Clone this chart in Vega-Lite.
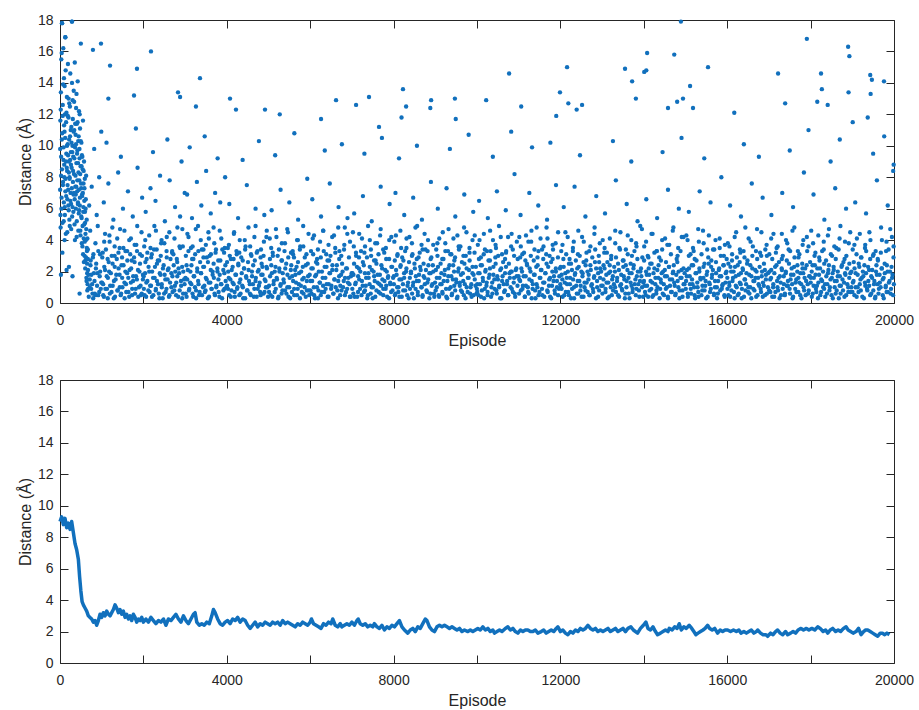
{
"$schema": "https://vega.github.io/schema/vega-lite/v6.json",
"background": "white",
"padding": {"left": 16, "top": 12, "right": 10, "bottom": 5},
"spacing": 23,
"config": {
 "font": "Liberation Sans",
 "view": {"stroke": "#262626", "strokeWidth": 1},
 "axis": {"grid": false, "domain": false, "tickColor": "#262626", "tickSize": -8, "tickWidth": 1, "labelColor": "#262626", "labelFontSize": 14, "titleFontSize": 16, "titleFontWeight": "normal", "titleColor": "#262626", "labelFont": "Liberation Sans", "titleFont": "Liberation Sans"},
 "axisX": {"labelPadding": 18, "titlePadding": 5, "labelFlush": false},
 "axisY": {"labelPadding": 15, "titlePadding": 4}
},
"datasets": {
"scatter": [
{"e":5,"d":9.8},{"e":12,"d":5.6},{"e":18,"d":12.3},{"e":25,"d":8.1},{"e":31,"d":15.5},{"e":38,"d":6.7},{"e":44,"d":10.4},{"e":50,"d":17.8},{"e":57,"d":3.2},{"e":63,"d":11.9},{"e":70,"d":7.5},{"e":76,"d":13.9},{"e":82,"d":9.1},{"e":89,"d":5.2},{"e":95,"d":14.3},{"e":101,"d":8.8},{"e":108,"d":10.9},{"e":114,"d":6.1},{"e":120,"d":12.0},{"e":127,"d":16.9},{"e":133,"d":7.9},{"e":139,"d":4.4},{"e":146,"d":11.5},{"e":152,"d":9.5},{"e":158,"d":2.1},{"e":165,"d":13.1},{"e":171,"d":8.4},{"e":177,"d":6.6},{"e":184,"d":10.1},{"e":190,"d":15.2},{"e":196,"d":7.2},{"e":203,"d":11.8},{"e":209,"d":5.9},{"e":215,"d":9.0},{"e":222,"d":12.7},{"e":228,"d":8.0},{"e":234,"d":4.9},{"e":241,"d":10.6},{"e":247,"d":14.6},{"e":253,"d":7.0},{"e":260,"d":9.6},{"e":266,"d":6.3},{"e":272,"d":11.2},{"e":279,"d":8.6},{"e":285,"d":17.9},{"e":291,"d":5.5},{"e":298,"d":10.0},{"e":304,"d":12.9},{"e":310,"d":7.7},{"e":317,"d":9.3},{"e":323,"d":6.9},{"e":329,"d":13.5},{"e":336,"d":8.2},{"e":342,"d":11.0},{"e":348,"d":5.0},{"e":355,"d":15.3},{"e":361,"d":9.9},{"e":367,"d":7.4},{"e":374,"d":10.7},{"e":380,"d":6.0},{"e":386,"d":12.4},{"e":393,"d":8.9},{"e":399,"d":4.2},{"e":405,"d":11.4},{"e":412,"d":7.1},{"e":418,"d":9.7},{"e":424,"d":14.1},{"e":431,"d":6.4},{"e":437,"d":10.3},{"e":443,"d":8.3},{"e":450,"d":5.7},{"e":456,"d":12.2},{"e":462,"d":7.8},{"e":469,"d":9.2},{"e":475,"d":6.2},{"e":481,"d":11.1},{"e":488,"d":4.6},{"e":494,"d":8.7},{"e":500,"d":16.5},{"e":507,"d":7.3},{"e":513,"d":10.2},{"e":519,"d":5.4},{"e":526,"d":9.4},{"e":532,"d":6.8},{"e":538,"d":3.6},{"e":545,"d":8.5},{"e":551,"d":11.6},{"e":557,"d":5.8},{"e":564,"d":7.6},{"e":570,"d":4.1},{"e":576,"d":9.0},{"e":583,"d":6.5},{"e":589,"d":3.0},{"e":595,"d":7.9},{"e":602,"d":5.1},{"e":608,"d":2.7},{"e":614,"d":6.0},{"e":621,"d":4.0},{"e":627,"d":8.1},{"e":633,"d":1.6},{"e":640,"d":5.3},{"e":646,"d":3.3},{"e":652,"d":1.9},{"e":22,"d":1.8},{"e":110,"d":4.0},{"e":215,"d":2.3},{"e":300,"d":1.7},{"e":470,"d":0.6},
{"e":3,"d":7.2},{"e":9,"d":11.6},{"e":15,"d":4.8},{"e":21,"d":13.4},{"e":27,"d":9.3},{"e":34,"d":6.0},{"e":41,"d":15.9},{"e":47,"d":8.5},{"e":53,"d":10.8},{"e":60,"d":5.1},{"e":66,"d":12.6},{"e":73,"d":7.7},{"e":79,"d":16.2},{"e":86,"d":9.9},{"e":92,"d":6.4},{"e":98,"d":11.3},{"e":105,"d":8.0},{"e":111,"d":13.8},{"e":117,"d":5.6},{"e":124,"d":10.5},{"e":130,"d":7.1},{"e":136,"d":14.8},{"e":143,"d":9.0},{"e":149,"d":6.8},{"e":155,"d":12.1},{"e":162,"d":8.6},{"e":168,"d":10.0},{"e":174,"d":4.5},{"e":181,"d":7.5},{"e":187,"d":11.9},{"e":193,"d":9.4},{"e":200,"d":6.2},{"e":206,"d":13.0},{"e":212,"d":8.3},{"e":219,"d":10.4},{"e":225,"d":5.3},{"e":231,"d":7.9},{"e":238,"d":12.5},{"e":244,"d":9.1},{"e":250,"d":6.5},{"e":257,"d":11.0},{"e":263,"d":8.8},{"e":269,"d":4.7},{"e":276,"d":10.2},{"e":282,"d":7.3},{"e":288,"d":14.0},{"e":295,"d":9.6},{"e":301,"d":6.1},{"e":307,"d":11.7},{"e":314,"d":8.4},{"e":320,"d":5.8},{"e":326,"d":10.9},{"e":333,"d":7.0},{"e":339,"d":12.8},{"e":345,"d":9.2},{"e":352,"d":6.6},{"e":358,"d":4.0},{"e":364,"d":11.4},{"e":371,"d":8.1},{"e":377,"d":6.9},{"e":383,"d":10.1},{"e":390,"d":7.4},{"e":396,"d":13.3},{"e":402,"d":5.2},{"e":409,"d":9.5},{"e":415,"d":7.8},{"e":421,"d":11.5},{"e":428,"d":6.3},{"e":434,"d":8.9},{"e":440,"d":4.6},{"e":447,"d":10.6},{"e":453,"d":7.2},{"e":459,"d":5.9},{"e":466,"d":9.8},{"e":472,"d":12.0},{"e":478,"d":6.7},{"e":485,"d":8.2},{"e":491,"d":4.3},{"e":497,"d":10.3},{"e":504,"d":7.6},{"e":510,"d":5.5},{"e":516,"d":8.7},{"e":523,"d":3.8},{"e":529,"d":6.9},{"e":535,"d":9.3},{"e":542,"d":4.9},{"e":548,"d":7.0},{"e":554,"d":3.1},{"e":561,"d":6.1},{"e":567,"d":8.4},{"e":573,"d":2.6},{"e":580,"d":5.0},{"e":586,"d":7.3},{"e":592,"d":3.9},{"e":599,"d":5.8},{"e":605,"d":2.2},{"e":611,"d":4.4},{"e":618,"d":6.6},{"e":624,"d":2.9},{"e":630,"d":4.7},{"e":637,"d":1.4},{"e":643,"d":3.5},{"e":649,"d":2.5},{"e":656,"d":4.1},{"e":662,"d":1.2},{"e":668,"d":2.8},{"e":675,"d":0.9},{"e":681,"d":1.8},
{"e":48,"d":17.8},{"e":288,"d":17.9},{"e":128,"d":16.9},{"e":790,"d":16.1},{"e":983,"d":16.5},{"e":1200,"d":15.1},{"e":1846,"d":14.9},{"e":2182,"d":16.0},{"e":3357,"d":14.3},{"e":2830,"d":13.4},{"e":2880,"d":13.1},{"e":1775,"d":13.2},{"e":1160,"d":13.0},{"e":4077,"d":13.0},{"e":4220,"d":12.3},{"e":3260,"d":12.5},{"e":4916,"d":12.3},{"e":5270,"d":12.0},{"e":8225,"d":13.6},{"e":8300,"d":12.5},{"e":10770,"d":14.6},{"e":12160,"d":15.0},{"e":11990,"d":13.4},{"e":9470,"d":13.0},{"e":9490,"d":11.7},{"e":8900,"d":12.9},{"e":8880,"d":12.4},{"e":6620,"d":12.9},{"e":7410,"d":13.1},{"e":7100,"d":12.6},{"e":10220,"d":12.9},{"e":11060,"d":12.5},{"e":8190,"d":11.8},{"e":6260,"d":11.7},{"e":12520,"d":12.6},{"e":11900,"d":11.9},{"e":7650,"d":11.2},{"e":14890,"d":17.9},{"e":17910,"d":16.8},{"e":18900,"d":16.3},{"e":18930,"d":15.7},{"e":14080,"d":15.9},{"e":14730,"d":15.8},{"e":13550,"d":14.9},{"e":14010,"d":14.7},{"e":14060,"d":14.8},{"e":15540,"d":15.0},{"e":17220,"d":14.6},{"e":13720,"d":14.1},{"e":18250,"d":14.6},{"e":19430,"d":14.5},{"e":19470,"d":14.2},{"e":19760,"d":14.1},{"e":15110,"d":13.8},{"e":18270,"d":13.6},{"e":18910,"d":13.4},{"e":19440,"d":13.3},{"e":13810,"d":13.0},{"e":14940,"d":13.0},{"e":15180,"d":12.4},{"e":14580,"d":12.4},{"e":14800,"d":12.8},{"e":18160,"d":12.8},{"e":18410,"d":12.6},{"e":17390,"d":12.7},{"e":16170,"d":12.1},{"e":12190,"d":12.7},{"e":12390,"d":12.3},{"e":19370,"d":11.8},{"e":19010,"d":11.5},
{"e":655,"d":0.8},{"e":672,"d":2.1},{"e":690,"d":0.4},{"e":713,"d":1.5},{"e":731,"d":2.4},{"e":748,"d":0.9},{"e":770,"d":1.2},{"e":795,"d":0.3},{"e":812,"d":1.9},{"e":836,"d":0.6},{"e":861,"d":2.2},{"e":889,"d":1.1},{"e":917,"d":0.5},{"e":952,"d":1.7},{"e":978,"d":0.9},{"e":668,"d":3.4},{"e":724,"d":4.6},{"e":789,"d":2.9},{"e":850,"d":3.8},{"e":905,"d":4.9},{"e":960,"d":3.1},{"e":700,"d":6.2},{"e":760,"d":7.4},{"e":880,"d":5.6},{"e":940,"d":8.0},{"e":820,"d":9.8},{"e":990,"d":10.9},
{"e":714,"d":1.0},{"e":735,"d":2.7},{"e":752,"d":1.8},{"e":780,"d":0.6},{"e":801,"d":3.1},{"e":827,"d":1.4},{"e":849,"d":0.5},{"e":868,"d":2.5},{"e":896,"d":1.9},{"e":919,"d":3.3},{"e":941,"d":0.7},{"e":963,"d":2.0},{"e":990,"d":1.3},
{"e":1008,"d":1.3},{"e":1037,"d":0.5},{"e":1062,"d":2.3},{"e":1089,"d":0.9},{"e":1121,"d":1.7},{"e":1146,"d":0.3},{"e":1178,"d":2.0},{"e":1203,"d":1.1},{"e":1236,"d":0.7},{"e":1261,"d":2.5},{"e":1293,"d":1.4},{"e":1320,"d":0.4},{"e":1349,"d":1.8},{"e":1377,"d":0.8},{"e":1405,"d":2.2},{"e":1433,"d":1.0},{"e":1466,"d":0.6},{"e":1491,"d":1.6},{"e":1524,"d":2.4},{"e":1550,"d":0.3},{"e":1583,"d":1.2},{"e":1609,"d":1.9},{"e":1641,"d":0.7},{"e":1668,"d":2.1},{"e":1699,"d":1.3},{"e":1727,"d":0.5},{"e":1755,"d":1.7},{"e":1788,"d":2.6},{"e":1816,"d":0.9},{"e":1843,"d":1.5},{"e":1877,"d":0.4},{"e":1905,"d":2.0},{"e":1932,"d":1.1},{"e":1961,"d":0.6},{"e":1989,"d":1.8},{"e":1025,"d":3.2},{"e":1080,"d":4.4},{"e":1142,"d":2.8},{"e":1190,"d":3.9},{"e":1255,"d":4.8},{"e":1310,"d":3.0},{"e":1372,"d":4.1},{"e":1430,"d":3.5},{"e":1488,"d":2.9},{"e":1545,"d":4.6},{"e":1612,"d":3.3},{"e":1660,"d":4.0},{"e":1720,"d":2.7},{"e":1790,"d":3.7},{"e":1852,"d":4.9},{"e":1920,"d":3.1},{"e":1050,"d":6.4},{"e":1160,"d":7.6},{"e":1280,"d":5.3},{"e":1395,"d":8.3},{"e":1510,"d":6.0},{"e":1630,"d":7.1},{"e":1745,"d":5.5},{"e":1860,"d":8.6},{"e":1970,"d":6.7},{"e":1115,"d":10.2},{"e":1460,"d":9.3},{"e":1820,"d":11.1},
{"e":1014,"d":2.9},{"e":1035,"d":1.2},{"e":1052,"d":0.4},{"e":1080,"d":2.1},{"e":1101,"d":3.4},{"e":1127,"d":0.9},{"e":1149,"d":1.6},{"e":1168,"d":2.6},{"e":1196,"d":0.6},{"e":1219,"d":1.9},{"e":1241,"d":3.0},{"e":1263,"d":1.1},{"e":1290,"d":0.3},{"e":1312,"d":2.3},{"e":1333,"d":1.5},{"e":1361,"d":2.8},{"e":1384,"d":0.8},{"e":1402,"d":3.2},{"e":1429,"d":1.8},{"e":1455,"d":0.5},{"e":1474,"d":2.4},{"e":1497,"d":1.0},{"e":1520,"d":3.5},{"e":1546,"d":1.3},{"e":1568,"d":2.0},{"e":1589,"d":0.7},{"e":1615,"d":2.7},{"e":1638,"d":1.6},{"e":1660,"d":0.4},{"e":1684,"d":3.1},{"e":1707,"d":2.2},{"e":1731,"d":0.9},{"e":1752,"d":1.4},{"e":1776,"d":2.9},{"e":1799,"d":0.6},{"e":1823,"d":1.7},{"e":1846,"d":3.3},{"e":1870,"d":2.1},{"e":1893,"d":1.0},{"e":1918,"d":2.5},{"e":1941,"d":0.5},{"e":1965,"d":3.0},{"e":1988,"d":1.5},{"e":1060,"d":3.9},{"e":1185,"d":4.3},{"e":1310,"d":3.6},{"e":1440,"d":4.7},{"e":1570,"d":3.3},{"e":1700,"d":4.1},{"e":1830,"d":3.7},{"e":1955,"d":4.5},
{"e":2011,"d":0.9},{"e":2040,"d":1.9},{"e":2066,"d":0.4},{"e":2095,"d":1.4},{"e":2124,"d":2.3},{"e":2150,"d":0.7},{"e":2183,"d":1.1},{"e":2209,"d":2.0},{"e":2238,"d":0.5},{"e":2270,"d":1.6},{"e":2296,"d":0.8},{"e":2325,"d":2.5},{"e":2351,"d":1.2},{"e":2384,"d":0.3},{"e":2410,"d":1.8},{"e":2441,"d":1.0},{"e":2468,"d":2.2},{"e":2497,"d":0.6},{"e":2526,"d":1.5},{"e":2553,"d":0.9},{"e":2585,"d":2.1},{"e":2612,"d":0.4},{"e":2640,"d":1.3},{"e":2671,"d":1.9},{"e":2699,"d":0.7},{"e":2727,"d":2.4},{"e":2756,"d":1.1},{"e":2784,"d":0.5},{"e":2813,"d":1.7},{"e":2842,"d":2.2},{"e":2870,"d":0.8},{"e":2901,"d":1.4},{"e":2929,"d":0.3},{"e":2957,"d":2.0},{"e":2986,"d":1.2},{"e":2020,"d":3.6},{"e":2078,"d":2.8},{"e":2139,"d":4.3},{"e":2201,"d":3.1},{"e":2263,"d":4.9},{"e":2318,"d":3.4},{"e":2379,"d":2.7},{"e":2436,"d":4.0},{"e":2502,"d":3.8},{"e":2560,"d":2.9},{"e":2622,"d":4.5},{"e":2688,"d":3.2},{"e":2745,"d":4.1},{"e":2801,"d":2.8},{"e":2866,"d":3.6},{"e":2934,"d":4.7},{"e":2055,"d":5.8},{"e":2170,"d":7.3},{"e":2290,"d":6.5},{"e":2400,"d":8.1},{"e":2515,"d":5.2},{"e":2630,"d":7.8},{"e":2760,"d":6.1},{"e":2880,"d":5.5},{"e":2990,"d":7.0},{"e":2230,"d":9.6},{"e":2575,"d":10.4},{"e":2915,"d":9.0},
{"e":2007,"d":1.7},{"e":2029,"d":0.5},{"e":2047,"d":2.6},{"e":2071,"d":1.3},{"e":2095,"d":3.2},{"e":2118,"d":0.8},{"e":2139,"d":2.0},{"e":2162,"d":1.1},{"e":2187,"d":2.9},{"e":2206,"d":0.4},{"e":2232,"d":1.6},{"e":2254,"d":3.4},{"e":2277,"d":2.3},{"e":2299,"d":0.9},{"e":2325,"d":1.4},{"e":2347,"d":2.7},{"e":2370,"d":0.6},{"e":2393,"d":1.9},{"e":2416,"d":3.0},{"e":2440,"d":1.2},{"e":2463,"d":0.3},{"e":2486,"d":2.4},{"e":2509,"d":1.8},{"e":2533,"d":0.7},{"e":2555,"d":3.3},{"e":2580,"d":1.5},{"e":2603,"d":2.2},{"e":2626,"d":0.5},{"e":2650,"d":2.8},{"e":2672,"d":1.0},{"e":2696,"d":1.7},{"e":2719,"d":3.1},{"e":2741,"d":0.8},{"e":2765,"d":2.0},{"e":2788,"d":1.3},{"e":2811,"d":2.6},{"e":2835,"d":0.4},{"e":2858,"d":1.9},{"e":2881,"d":3.5},{"e":2905,"d":1.1},{"e":2929,"d":2.3},{"e":2952,"d":0.6},{"e":2976,"d":1.5},{"e":2045,"d":4.0},{"e":2170,"d":3.5},{"e":2300,"d":4.6},{"e":2425,"d":3.8},{"e":2560,"d":4.2},{"e":2690,"d":3.3},{"e":2815,"d":4.8},{"e":2945,"d":3.6},
{"e":3009,"d":1.6},{"e":3036,"d":0.4},{"e":3065,"d":2.1},{"e":3093,"d":0.8},{"e":3120,"d":1.3},{"e":3152,"d":2.4},{"e":3178,"d":0.6},{"e":3206,"d":1.7},{"e":3237,"d":1.0},{"e":3264,"d":0.3},{"e":3291,"d":2.0},{"e":3322,"d":1.2},{"e":3348,"d":0.7},{"e":3379,"d":1.9},{"e":3405,"d":0.5},{"e":3434,"d":2.3},{"e":3462,"d":1.1},{"e":3491,"d":0.8},{"e":3519,"d":1.5},{"e":3548,"d":2.6},{"e":3575,"d":0.4},{"e":3605,"d":1.3},{"e":3632,"d":0.9},{"e":3660,"d":2.0},{"e":3690,"d":1.6},{"e":3717,"d":0.5},{"e":3746,"d":1.0},{"e":3773,"d":2.2},{"e":3804,"d":0.7},{"e":3830,"d":1.8},{"e":3859,"d":1.2},{"e":3887,"d":0.3},{"e":3916,"d":2.1},{"e":3944,"d":0.9},{"e":3973,"d":1.4},{"e":3018,"d":3.0},{"e":3082,"d":4.2},{"e":3140,"d":3.5},{"e":3199,"d":2.8},{"e":3255,"d":4.7},{"e":3318,"d":3.3},{"e":3376,"d":4.0},{"e":3440,"d":2.9},{"e":3498,"d":3.7},{"e":3559,"d":4.5},{"e":3620,"d":3.1},{"e":3683,"d":4.8},{"e":3740,"d":3.4},{"e":3795,"d":2.7},{"e":3868,"d":4.1},{"e":3935,"d":3.2},{"e":3048,"d":6.9},{"e":3165,"d":5.4},{"e":3283,"d":7.7},{"e":3390,"d":6.2},{"e":3505,"d":8.4},{"e":3615,"d":5.7},{"e":3720,"d":7.0},{"e":3842,"d":6.4},{"e":3960,"d":8.0},{"e":3110,"d":9.9},{"e":3470,"d":10.6},{"e":3780,"d":9.2},
{"e":3014,"d":0.6},{"e":3035,"d":2.4},{"e":3052,"d":1.5},{"e":3080,"d":3.3},{"e":3101,"d":0.9},{"e":3127,"d":2.0},{"e":3149,"d":1.2},{"e":3168,"d":2.8},{"e":3196,"d":0.4},{"e":3219,"d":1.7},{"e":3241,"d":3.1},{"e":3263,"d":0.8},{"e":3290,"d":2.2},{"e":3312,"d":1.4},{"e":3333,"d":0.5},{"e":3361,"d":2.6},{"e":3384,"d":1.9},{"e":3402,"d":3.4},{"e":3429,"d":1.0},{"e":3455,"d":2.3},{"e":3474,"d":0.7},{"e":3497,"d":1.6},{"e":3520,"d":2.9},{"e":3546,"d":0.3},{"e":3568,"d":1.3},{"e":3589,"d":3.0},{"e":3615,"d":2.1},{"e":3638,"d":0.9},{"e":3660,"d":1.8},{"e":3684,"d":2.5},{"e":3707,"d":0.6},{"e":3731,"d":3.2},{"e":3752,"d":1.1},{"e":3776,"d":2.0},{"e":3799,"d":1.5},{"e":3823,"d":0.4},{"e":3846,"d":2.7},{"e":3870,"d":1.2},{"e":3893,"d":3.4},{"e":3918,"d":0.8},{"e":3941,"d":1.9},{"e":3965,"d":2.4},{"e":3988,"d":1.0},{"e":3055,"d":4.4},{"e":3180,"d":3.6},{"e":3310,"d":4.9},{"e":3440,"d":3.4},{"e":3570,"d":4.1},{"e":3700,"d":3.8},{"e":3830,"d":4.6},{"e":3950,"d":3.5},
{"e":4007,"d":1.1},{"e":4034,"d":2.0},{"e":4058,"d":0.5},{"e":4085,"d":1.5},{"e":4112,"d":0.8},{"e":4140,"d":2.3},{"e":4166,"d":1.2},{"e":4193,"d":0.4},{"e":4221,"d":1.8},{"e":4248,"d":0.9},{"e":4276,"d":2.5},{"e":4303,"d":1.3},{"e":4330,"d":0.6},{"e":4358,"d":1.9},{"e":4385,"d":1.0},{"e":4413,"d":2.2},{"e":4441,"d":0.3},{"e":4468,"d":1.6},{"e":4496,"d":0.8},{"e":4523,"d":2.1},{"e":4551,"d":1.2},{"e":4578,"d":0.5},{"e":4606,"d":1.7},{"e":4633,"d":2.4},{"e":4661,"d":0.9},{"e":4689,"d":1.4},{"e":4716,"d":0.4},{"e":4744,"d":2.0},{"e":4771,"d":1.1},{"e":4799,"d":0.7},{"e":4826,"d":1.8},{"e":4854,"d":2.3},{"e":4882,"d":0.6},{"e":4909,"d":1.5},{"e":4937,"d":1.0},{"e":4964,"d":2.2},{"e":4990,"d":0.4},{"e":4025,"d":3.5},{"e":4098,"d":2.8},{"e":4170,"d":4.4},{"e":4239,"d":3.1},{"e":4310,"d":4.0},{"e":4382,"d":2.7},{"e":4450,"d":3.6},{"e":4520,"d":4.8},{"e":4590,"d":3.0},{"e":4662,"d":4.2},{"e":4735,"d":3.3},{"e":4810,"d":2.9},{"e":4890,"d":3.9},{"e":4958,"d":4.6},{"e":4060,"d":6.3},{"e":4270,"d":5.4},{"e":4480,"d":7.5},{"e":4690,"d":6.0},{"e":4900,"d":5.6},{"e":4380,"d":9.1},{"e":4770,"d":10.3},
{"e":4007,"d":2.6},{"e":4029,"d":0.9},{"e":4047,"d":1.6},{"e":4071,"d":3.0},{"e":4095,"d":0.4},{"e":4118,"d":2.1},{"e":4139,"d":1.3},{"e":4162,"d":2.8},{"e":4187,"d":0.7},{"e":4206,"d":1.8},{"e":4232,"d":3.3},{"e":4254,"d":1.0},{"e":4277,"d":2.4},{"e":4299,"d":0.5},{"e":4325,"d":1.5},{"e":4347,"d":2.9},{"e":4370,"d":1.1},{"e":4393,"d":0.3},{"e":4416,"d":2.2},{"e":4440,"d":3.4},{"e":4463,"d":1.7},{"e":4486,"d":0.8},{"e":4509,"d":2.6},{"e":4533,"d":1.4},{"e":4555,"d":0.6},{"e":4580,"d":3.1},{"e":4603,"d":2.0},{"e":4626,"d":1.2},{"e":4650,"d":0.4},{"e":4672,"d":2.7},{"e":4696,"d":1.6},{"e":4719,"d":3.2},{"e":4741,"d":0.9},{"e":4765,"d":2.1},{"e":4788,"d":1.3},{"e":4811,"d":0.5},{"e":4835,"d":2.5},{"e":4858,"d":1.8},{"e":4881,"d":3.0},{"e":4905,"d":0.7},{"e":4929,"d":1.4},{"e":4952,"d":2.3},{"e":4976,"d":1.0},{"e":4050,"d":3.7},{"e":4175,"d":4.5},{"e":4300,"d":3.2},{"e":4430,"d":4.0},{"e":4560,"d":3.6},{"e":4690,"d":4.9},{"e":4820,"d":3.4},{"e":4950,"d":4.2},
{"e":5012,"d":0.7},{"e":5038,"d":1.7},{"e":5067,"d":2.4},{"e":5092,"d":0.4},{"e":5120,"d":1.2},{"e":5149,"d":2.0},{"e":5175,"d":0.9},{"e":5204,"d":1.5},{"e":5230,"d":0.3},{"e":5259,"d":2.2},{"e":5286,"d":1.1},{"e":5314,"d":0.6},{"e":5341,"d":1.9},{"e":5369,"d":1.3},{"e":5397,"d":0.8},{"e":5424,"d":2.5},{"e":5452,"d":1.0},{"e":5479,"d":0.4},{"e":5507,"d":1.6},{"e":5535,"d":2.1},{"e":5562,"d":0.7},{"e":5590,"d":1.4},{"e":5617,"d":0.5},{"e":5645,"d":1.8},{"e":5673,"d":2.3},{"e":5700,"d":0.9},{"e":5728,"d":1.2},{"e":5755,"d":0.3},{"e":5783,"d":2.0},{"e":5811,"d":1.5},{"e":5838,"d":0.6},{"e":5866,"d":1.0},{"e":5893,"d":2.4},{"e":5921,"d":0.8},{"e":5949,"d":1.7},{"e":5976,"d":0.5},{"e":5030,"d":4.1},{"e":5105,"d":3.0},{"e":5178,"d":4.7},{"e":5250,"d":3.4},{"e":5322,"d":2.7},{"e":5395,"d":3.8},{"e":5466,"d":4.5},{"e":5540,"d":3.2},{"e":5611,"d":2.9},{"e":5685,"d":4.0},{"e":5760,"d":3.6},{"e":5832,"d":4.9},{"e":5910,"d":3.1},{"e":5075,"d":5.9},{"e":5290,"d":7.2},{"e":5500,"d":6.4},{"e":5710,"d":5.3},{"e":5930,"d":7.9},{"e":5160,"d":9.4},{"e":5620,"d":10.8},
{"e":5014,"d":1.1},{"e":5035,"d":2.8},{"e":5052,"d":0.5},{"e":5080,"d":1.9},{"e":5101,"d":3.2},{"e":5127,"d":1.4},{"e":5149,"d":0.7},{"e":5168,"d":2.3},{"e":5196,"d":1.6},{"e":5219,"d":3.0},{"e":5241,"d":0.4},{"e":5263,"d":2.0},{"e":5290,"d":1.2},{"e":5312,"d":2.7},{"e":5333,"d":0.8},{"e":5361,"d":1.5},{"e":5384,"d":3.3},{"e":5402,"d":2.2},{"e":5429,"d":0.6},{"e":5455,"d":1.8},{"e":5474,"d":2.9},{"e":5497,"d":1.0},{"e":5520,"d":0.3},{"e":5546,"d":2.4},{"e":5568,"d":1.7},{"e":5589,"d":3.1},{"e":5615,"d":0.9},{"e":5638,"d":2.1},{"e":5660,"d":1.3},{"e":5684,"d":0.5},{"e":5707,"d":2.6},{"e":5731,"d":1.9},{"e":5752,"d":3.4},{"e":5776,"d":1.1},{"e":5799,"d":0.7},{"e":5823,"d":2.3},{"e":5846,"d":1.6},{"e":5870,"d":2.9},{"e":5893,"d":0.4},{"e":5918,"d":1.4},{"e":5941,"d":2.5},{"e":5965,"d":0.8},{"e":5988,"d":1.8},{"e":5065,"d":3.5},{"e":5190,"d":4.2},{"e":5320,"d":3.8},{"e":5450,"d":4.7},{"e":5580,"d":3.3},{"e":5705,"d":4.0},{"e":5835,"d":3.6},{"e":5960,"d":4.4},
{"e":6006,"d":1.4},{"e":6033,"d":0.6},{"e":6061,"d":2.2},{"e":6088,"d":1.0},{"e":6116,"d":0.3},{"e":6143,"d":1.8},{"e":6171,"d":2.5},{"e":6198,"d":0.8},{"e":6226,"d":1.3},{"e":6253,"d":0.5},{"e":6281,"d":2.0},{"e":6308,"d":1.1},{"e":6336,"d":0.7},{"e":6364,"d":1.6},{"e":6391,"d":2.3},{"e":6419,"d":0.4},{"e":6446,"d":1.2},{"e":6474,"d":1.9},{"e":6501,"d":0.9},{"e":6529,"d":2.1},{"e":6557,"d":0.6},{"e":6584,"d":1.5},{"e":6612,"d":1.0},{"e":6639,"d":2.4},{"e":6667,"d":0.3},{"e":6694,"d":1.7},{"e":6722,"d":1.1},{"e":6750,"d":0.8},{"e":6777,"d":2.0},{"e":6805,"d":1.4},{"e":6832,"d":0.5},{"e":6860,"d":2.2},{"e":6887,"d":0.9},{"e":6915,"d":1.6},{"e":6942,"d":1.2},{"e":6970,"d":0.4},{"e":6995,"d":1.9},{"e":6020,"d":3.3},{"e":6092,"d":4.3},{"e":6165,"d":2.8},{"e":6237,"d":3.9},{"e":6310,"d":4.6},{"e":6384,"d":3.1},{"e":6455,"d":2.7},{"e":6527,"d":4.2},{"e":6600,"d":3.5},{"e":6672,"d":4.8},{"e":6745,"d":3.0},{"e":6818,"d":3.7},{"e":6890,"d":4.4},{"e":6050,"d":6.6},{"e":6260,"d":5.5},{"e":6470,"d":7.6},{"e":6680,"d":6.1},{"e":6895,"d":5.4},{"e":6350,"d":9.7},{"e":6760,"d":10.1},
{"e":6007,"d":0.8},{"e":6029,"d":2.2},{"e":6047,"d":1.4},{"e":6071,"d":3.1},{"e":6095,"d":0.5},{"e":6118,"d":1.7},{"e":6139,"d":2.6},{"e":6162,"d":1.0},{"e":6187,"d":0.3},{"e":6206,"d":2.0},{"e":6232,"d":1.3},{"e":6254,"d":2.9},{"e":6277,"d":0.7},{"e":6299,"d":1.6},{"e":6325,"d":3.3},{"e":6347,"d":2.3},{"e":6370,"d":0.9},{"e":6393,"d":1.2},{"e":6416,"d":2.7},{"e":6440,"d":0.4},{"e":6463,"d":1.9},{"e":6486,"d":3.0},{"e":6509,"d":1.1},{"e":6533,"d":2.4},{"e":6555,"d":0.6},{"e":6580,"d":1.5},{"e":6603,"d":3.2},{"e":6626,"d":2.1},{"e":6650,"d":0.8},{"e":6672,"d":1.4},{"e":6696,"d":2.8},{"e":6719,"d":0.5},{"e":6741,"d":1.8},{"e":6765,"d":2.5},{"e":6788,"d":1.0},{"e":6811,"d":3.4},{"e":6835,"d":1.6},{"e":6858,"d":0.7},{"e":6881,"d":2.2},{"e":6905,"d":1.3},{"e":6929,"d":2.9},{"e":6952,"d":0.4},{"e":6976,"d":1.7},{"e":6060,"d":4.1},{"e":6185,"d":3.4},{"e":6315,"d":4.6},{"e":6440,"d":3.7},{"e":6570,"d":4.3},{"e":6700,"d":3.3},{"e":6830,"d":4.8},{"e":6955,"d":3.9},
{"e":7010,"d":0.9},{"e":7037,"d":1.8},{"e":7065,"d":0.4},{"e":7092,"d":1.3},{"e":7120,"d":2.3},{"e":7147,"d":0.7},{"e":7175,"d":1.5},{"e":7202,"d":2.0},{"e":7230,"d":0.5},{"e":7258,"d":1.1},{"e":7285,"d":2.4},{"e":7313,"d":0.8},{"e":7340,"d":1.6},{"e":7368,"d":0.3},{"e":7395,"d":1.9},{"e":7423,"d":1.2},{"e":7451,"d":0.6},{"e":7478,"d":2.1},{"e":7506,"d":1.0},{"e":7533,"d":1.7},{"e":7561,"d":0.4},{"e":7588,"d":2.5},{"e":7616,"d":1.3},{"e":7643,"d":0.7},{"e":7671,"d":1.8},{"e":7699,"d":1.1},{"e":7726,"d":2.2},{"e":7754,"d":0.5},{"e":7781,"d":1.4},{"e":7809,"d":0.9},{"e":7836,"d":2.0},{"e":7864,"d":1.6},{"e":7892,"d":0.3},{"e":7919,"d":1.2},{"e":7947,"d":2.3},{"e":7974,"d":0.8},{"e":7025,"d":4.5},{"e":7098,"d":3.2},{"e":7170,"d":2.9},{"e":7242,"d":4.1},{"e":7315,"d":3.6},{"e":7388,"d":4.9},{"e":7460,"d":3.0},{"e":7532,"d":2.7},{"e":7605,"d":3.8},{"e":7677,"d":4.3},{"e":7750,"d":3.4},{"e":7822,"d":2.8},{"e":7895,"d":4.0},{"e":7055,"d":5.7},{"e":7265,"d":6.8},{"e":7475,"d":5.2},{"e":7690,"d":7.4},{"e":7905,"d":6.3},{"e":7300,"d":9.5},{"e":7720,"d":10.5},
{"e":7014,"d":1.9},{"e":7035,"d":0.6},{"e":7052,"d":2.5},{"e":7080,"d":1.2},{"e":7101,"d":3.0},{"e":7127,"d":0.4},{"e":7149,"d":1.7},{"e":7168,"d":2.2},{"e":7196,"d":0.9},{"e":7219,"d":3.3},{"e":7241,"d":1.4},{"e":7263,"d":2.6},{"e":7290,"d":0.7},{"e":7312,"d":1.9},{"e":7333,"d":1.1},{"e":7361,"d":2.9},{"e":7384,"d":0.5},{"e":7402,"d":1.6},{"e":7429,"d":2.3},{"e":7455,"d":3.4},{"e":7474,"d":1.0},{"e":7497,"d":0.3},{"e":7520,"d":2.0},{"e":7546,"d":1.4},{"e":7568,"d":2.7},{"e":7589,"d":0.8},{"e":7615,"d":1.8},{"e":7638,"d":3.1},{"e":7660,"d":1.2},{"e":7684,"d":0.6},{"e":7707,"d":2.4},{"e":7731,"d":1.5},{"e":7752,"d":0.9},{"e":7776,"d":3.2},{"e":7799,"d":2.1},{"e":7823,"d":1.1},{"e":7846,"d":0.4},{"e":7870,"d":1.7},{"e":7893,"d":2.8},{"e":7918,"d":1.3},{"e":7941,"d":0.7},{"e":7965,"d":2.3},{"e":7988,"d":1.6},{"e":7045,"d":3.6},{"e":7175,"d":4.4},{"e":7300,"d":3.2},{"e":7430,"d":4.0},{"e":7560,"d":3.8},{"e":7690,"d":4.7},{"e":7815,"d":3.5},{"e":7945,"d":4.2},
{"e":8004,"d":1.7},{"e":8031,"d":0.5},{"e":8059,"d":2.1},{"e":8086,"d":1.0},{"e":8114,"d":0.7},{"e":8141,"d":1.5},{"e":8169,"d":2.4},{"e":8196,"d":0.4},{"e":8224,"d":1.2},{"e":8252,"d":1.9},{"e":8279,"d":0.8},{"e":8307,"d":2.2},{"e":8334,"d":1.1},{"e":8362,"d":0.3},{"e":8389,"d":1.6},{"e":8417,"d":2.0},{"e":8444,"d":0.6},{"e":8472,"d":1.3},{"e":8500,"d":2.5},{"e":8527,"d":0.9},{"e":8555,"d":1.4},{"e":8582,"d":0.5},{"e":8610,"d":1.8},{"e":8637,"d":2.3},{"e":8665,"d":1.0},{"e":8693,"d":0.4},{"e":8720,"d":1.7},{"e":8748,"d":1.2},{"e":8775,"d":2.1},{"e":8803,"d":0.7},{"e":8830,"d":1.5},{"e":8858,"d":0.3},{"e":8886,"d":1.9},{"e":8913,"d":1.1},{"e":8941,"d":2.4},{"e":8968,"d":0.6},{"e":8994,"d":1.3},{"e":8018,"d":3.9},{"e":8090,"d":3.0},{"e":8163,"d":4.6},{"e":8235,"d":2.7},{"e":8308,"d":3.5},{"e":8380,"d":4.2},{"e":8453,"d":3.1},{"e":8525,"d":4.8},{"e":8598,"d":2.9},{"e":8670,"d":3.7},{"e":8743,"d":4.4},{"e":8815,"d":3.3},{"e":8888,"d":2.8},{"e":8045,"d":7.0},{"e":8255,"d":5.6},{"e":8470,"d":6.7},{"e":8680,"d":5.3},{"e":8895,"d":7.7},{"e":8130,"d":9.2},{"e":8560,"d":10.0},
{"e":8007,"d":1.2},{"e":8029,"d":2.7},{"e":8047,"d":0.6},{"e":8071,"d":1.8},{"e":8095,"d":3.1},{"e":8118,"d":1.0},{"e":8139,"d":0.4},{"e":8162,"d":2.3},{"e":8187,"d":1.5},{"e":8206,"d":2.9},{"e":8232,"d":0.8},{"e":8254,"d":1.6},{"e":8277,"d":3.3},{"e":8299,"d":2.0},{"e":8325,"d":0.5},{"e":8347,"d":1.3},{"e":8370,"d":2.6},{"e":8393,"d":0.9},{"e":8416,"d":1.9},{"e":8440,"d":3.0},{"e":8463,"d":1.1},{"e":8486,"d":0.3},{"e":8509,"d":2.2},{"e":8533,"d":1.7},{"e":8555,"d":2.8},{"e":8580,"d":0.7},{"e":8603,"d":1.4},{"e":8626,"d":3.2},{"e":8650,"d":2.1},{"e":8672,"d":1.0},{"e":8696,"d":0.5},{"e":8719,"d":2.5},{"e":8741,"d":1.6},{"e":8765,"d":3.4},{"e":8788,"d":0.8},{"e":8811,"d":1.3},{"e":8835,"d":2.4},{"e":8858,"d":1.9},{"e":8881,"d":0.6},{"e":8905,"d":2.9},{"e":8929,"d":1.2},{"e":8952,"d":2.0},{"e":8976,"d":0.4},{"e":8055,"d":4.3},{"e":8180,"d":3.5},{"e":8310,"d":4.1},{"e":8440,"d":3.8},{"e":8565,"d":4.9},{"e":8695,"d":3.4},{"e":8825,"d":4.0},{"e":8950,"d":3.7},
{"e":9009,"d":0.8},{"e":9036,"d":1.6},{"e":9064,"d":2.3},{"e":9091,"d":0.4},{"e":9119,"d":1.2},{"e":9146,"d":1.9},{"e":9174,"d":0.6},{"e":9201,"d":1.4},{"e":9229,"d":2.1},{"e":9257,"d":0.9},{"e":9284,"d":0.3},{"e":9312,"d":1.7},{"e":9339,"d":2.4},{"e":9367,"d":1.0},{"e":9394,"d":0.5},{"e":9422,"d":1.5},{"e":9450,"d":2.0},{"e":9477,"d":0.8},{"e":9505,"d":1.3},{"e":9532,"d":0.4},{"e":9560,"d":2.2},{"e":9587,"d":1.1},{"e":9615,"d":1.8},{"e":9642,"d":0.7},{"e":9670,"d":1.4},{"e":9698,"d":2.5},{"e":9725,"d":0.3},{"e":9753,"d":1.0},{"e":9780,"d":1.6},{"e":9808,"d":2.1},{"e":9835,"d":0.6},{"e":9863,"d":1.2},{"e":9891,"d":1.9},{"e":9918,"d":0.5},{"e":9946,"d":1.5},{"e":9973,"d":2.3},{"e":9997,"d":0.9},{"e":9022,"d":3.4},{"e":9095,"d":4.1},{"e":9167,"d":2.8},{"e":9240,"d":3.8},{"e":9318,"d":4.7},{"e":9385,"d":3.1},{"e":9457,"d":2.7},{"e":9530,"d":4.3},{"e":9602,"d":3.6},{"e":9675,"d":3.0},{"e":9747,"d":4.5},{"e":9820,"d":3.2},{"e":9892,"d":4.0},{"e":9060,"d":6.0},{"e":9270,"d":7.3},{"e":9480,"d":5.5},{"e":9695,"d":6.9},{"e":9910,"d":5.8},{"e":9350,"d":9.8},{"e":9800,"d":10.7},
{"e":9014,"d":2.1},{"e":9035,"d":1.0},{"e":9052,"d":3.0},{"e":9080,"d":0.5},{"e":9101,"d":1.6},{"e":9127,"d":2.5},{"e":9149,"d":1.2},{"e":9168,"d":0.7},{"e":9196,"d":2.8},{"e":9219,"d":1.8},{"e":9241,"d":3.3},{"e":9263,"d":0.4},{"e":9290,"d":1.4},{"e":9312,"d":2.2},{"e":9333,"d":0.9},{"e":9361,"d":3.1},{"e":9384,"d":1.7},{"e":9402,"d":0.6},{"e":9429,"d":2.4},{"e":9455,"d":1.1},{"e":9474,"d":2.9},{"e":9497,"d":1.5},{"e":9520,"d":0.3},{"e":9546,"d":2.0},{"e":9568,"d":3.4},{"e":9589,"d":1.3},{"e":9615,"d":0.8},{"e":9638,"d":2.6},{"e":9660,"d":1.9},{"e":9684,"d":0.5},{"e":9707,"d":1.2},{"e":9731,"d":3.0},{"e":9752,"d":2.2},{"e":9776,"d":0.7},{"e":9799,"d":1.6},{"e":9823,"d":2.7},{"e":9846,"d":1.0},{"e":9870,"d":0.4},{"e":9893,"d":2.3},{"e":9918,"d":1.8},{"e":9941,"d":3.2},{"e":9965,"d":1.1},{"e":9988,"d":0.6},{"e":9050,"d":3.8},{"e":9180,"d":4.5},{"e":9305,"d":3.3},{"e":9435,"d":4.1},{"e":9560,"d":3.6},{"e":9690,"d":4.8},{"e":9820,"d":3.5},{"e":9945,"d":4.3},
{"e":10006,"d":1.2},{"e":10034,"d":0.5},{"e":10061,"d":1.9},{"e":10089,"d":2.4},{"e":10116,"d":0.8},{"e":10144,"d":1.4},{"e":10171,"d":0.3},{"e":10199,"d":2.0},{"e":10227,"d":1.1},{"e":10254,"d":0.7},{"e":10282,"d":1.6},{"e":10309,"d":2.2},{"e":10337,"d":0.4},{"e":10364,"d":1.3},{"e":10392,"d":1.8},{"e":10420,"d":0.9},{"e":10447,"d":2.5},{"e":10475,"d":0.6},{"e":10502,"d":1.5},{"e":10530,"d":1.0},{"e":10557,"d":2.1},{"e":10585,"d":0.3},{"e":10613,"d":1.7},{"e":10640,"d":1.2},{"e":10668,"d":0.8},{"e":10695,"d":2.3},{"e":10723,"d":1.4},{"e":10750,"d":0.5},{"e":10778,"d":1.9},{"e":10806,"d":1.0},{"e":10833,"d":2.0},{"e":10861,"d":0.7},{"e":10888,"d":1.6},{"e":10916,"d":0.4},{"e":10943,"d":2.2},{"e":10971,"d":1.1},{"e":10996,"d":1.7},{"e":10020,"d":3.7},{"e":10093,"d":2.9},{"e":10165,"d":4.4},{"e":10238,"d":3.3},{"e":10310,"d":2.7},{"e":10383,"d":4.0},{"e":10455,"d":3.5},{"e":10528,"d":4.9},{"e":10600,"d":3.1},{"e":10673,"d":2.8},{"e":10745,"d":4.2},{"e":10818,"d":3.6},{"e":10890,"d":3.0},{"e":10050,"d":6.5},{"e":10260,"d":5.4},{"e":10478,"d":7.1},{"e":10690,"d":5.9},{"e":10900,"d":8.2},{"e":10380,"d":9.3},{"e":10820,"d":10.9},
{"e":10007,"d":0.7},{"e":10029,"d":1.9},{"e":10047,"d":2.8},{"e":10071,"d":1.2},{"e":10095,"d":0.4},{"e":10118,"d":2.4},{"e":10139,"d":1.6},{"e":10162,"d":3.1},{"e":10187,"d":0.9},{"e":10206,"d":2.1},{"e":10232,"d":1.3},{"e":10254,"d":0.5},{"e":10277,"d":2.7},{"e":10299,"d":1.8},{"e":10325,"d":3.3},{"e":10347,"d":1.0},{"e":10370,"d":0.6},{"e":10393,"d":2.3},{"e":10416,"d":1.5},{"e":10440,"d":2.9},{"e":10463,"d":0.8},{"e":10486,"d":1.7},{"e":10509,"d":3.0},{"e":10533,"d":1.1},{"e":10555,"d":0.3},{"e":10580,"d":2.2},{"e":10603,"d":1.4},{"e":10626,"d":2.6},{"e":10650,"d":0.7},{"e":10672,"d":1.9},{"e":10696,"d":3.2},{"e":10719,"d":1.2},{"e":10741,"d":0.5},{"e":10765,"d":2.5},{"e":10788,"d":1.6},{"e":10811,"d":2.0},{"e":10835,"d":0.9},{"e":10858,"d":3.4},{"e":10881,"d":1.3},{"e":10905,"d":0.6},{"e":10929,"d":2.1},{"e":10952,"d":1.7},{"e":10976,"d":2.8},{"e":10060,"d":4.0},{"e":10190,"d":3.4},{"e":10315,"d":4.6},{"e":10445,"d":3.7},{"e":10570,"d":4.2},{"e":10700,"d":3.3},{"e":10830,"d":4.4},{"e":10955,"d":3.9},
{"e":11008,"d":0.6},{"e":11035,"d":1.4},{"e":11063,"d":2.2},{"e":11090,"d":0.9},{"e":11118,"d":1.7},{"e":11145,"d":0.4},{"e":11173,"d":1.1},{"e":11201,"d":2.4},{"e":11228,"d":0.7},{"e":11256,"d":1.5},{"e":11283,"d":2.0},{"e":11311,"d":0.3},{"e":11339,"d":1.2},{"e":11366,"d":1.8},{"e":11394,"d":0.8},{"e":11421,"d":2.3},{"e":11449,"d":1.0},{"e":11476,"d":0.5},{"e":11504,"d":1.6},{"e":11532,"d":2.1},{"e":11559,"d":0.9},{"e":11587,"d":1.3},{"e":11614,"d":0.4},{"e":11642,"d":1.9},{"e":11669,"d":2.5},{"e":11697,"d":0.7},{"e":11725,"d":1.1},{"e":11752,"d":1.6},{"e":11780,"d":0.3},{"e":11807,"d":2.0},{"e":11835,"d":1.4},{"e":11862,"d":0.8},{"e":11890,"d":2.2},{"e":11918,"d":1.0},{"e":11945,"d":0.5},{"e":11973,"d":1.7},{"e":11998,"d":1.2},{"e":11015,"d":4.2},{"e":11088,"d":3.1},{"e":11160,"d":2.7},{"e":11233,"d":3.9},{"e":11305,"d":4.6},{"e":11378,"d":3.4},{"e":11450,"d":2.9},{"e":11523,"d":4.1},{"e":11595,"d":3.6},{"e":11668,"d":4.8},{"e":11740,"d":3.0},{"e":11813,"d":2.8},{"e":11885,"d":3.8},{"e":11045,"d":5.6},{"e":11255,"d":7.0},{"e":11470,"d":6.2},{"e":11680,"d":5.3},{"e":11895,"d":7.5},{"e":11320,"d":9.9},{"e":11760,"d":10.2},
{"e":11014,"d":1.5},{"e":11035,"d":2.9},{"e":11052,"d":0.8},{"e":11080,"d":2.0},{"e":11101,"d":1.1},{"e":11127,"d":3.2},{"e":11149,"d":0.4},{"e":11168,"d":1.7},{"e":11196,"d":2.5},{"e":11219,"d":1.0},{"e":11241,"d":0.6},{"e":11263,"d":2.2},{"e":11290,"d":3.0},{"e":11312,"d":1.4},{"e":11333,"d":0.9},{"e":11361,"d":2.7},{"e":11384,"d":1.8},{"e":11402,"d":0.3},{"e":11429,"d":1.2},{"e":11455,"d":2.4},{"e":11474,"d":3.3},{"e":11497,"d":0.7},{"e":11520,"d":1.6},{"e":11546,"d":2.1},{"e":11568,"d":0.5},{"e":11589,"d":2.8},{"e":11615,"d":1.3},{"e":11638,"d":1.9},{"e":11660,"d":3.1},{"e":11684,"d":0.8},{"e":11707,"d":2.3},{"e":11731,"d":1.5},{"e":11752,"d":0.4},{"e":11776,"d":2.6},{"e":11799,"d":1.1},{"e":11823,"d":3.4},{"e":11846,"d":1.7},{"e":11870,"d":0.6},{"e":11893,"d":2.0},{"e":11918,"d":1.4},{"e":11941,"d":2.9},{"e":11965,"d":0.9},{"e":11988,"d":2.2},{"e":11050,"d":3.6},{"e":11175,"d":4.3},{"e":11300,"d":3.9},{"e":11430,"d":4.8},{"e":11560,"d":3.4},{"e":11690,"d":4.1},{"e":11815,"d":3.7},{"e":11945,"d":4.5},
{"e":12005,"d":1.0},{"e":12030,"d":1.8},{"e":12054,"d":0.4},{"e":12079,"d":2.3},{"e":12104,"d":1.3},{"e":12129,"d":0.7},{"e":12154,"d":1.6},{"e":12179,"d":2.0},{"e":12204,"d":0.5},{"e":12229,"d":1.2},{"e":12254,"d":2.5},{"e":12279,"d":0.9},{"e":12304,"d":1.5},{"e":12329,"d":0.3},{"e":12354,"d":1.9},{"e":12379,"d":1.1},{"e":12404,"d":2.2},{"e":12429,"d":0.6},{"e":12454,"d":1.4},{"e":12479,"d":0.8},{"e":12504,"d":2.0},{"e":12529,"d":1.7},{"e":12554,"d":0.4},{"e":12579,"d":1.0},{"e":12604,"d":2.4},{"e":12629,"d":1.3},{"e":12654,"d":0.7},{"e":12679,"d":1.8},{"e":12704,"d":0.5},{"e":12729,"d":2.1},{"e":12754,"d":1.2},{"e":12779,"d":0.9},{"e":12804,"d":1.6},{"e":12829,"d":2.6},{"e":12854,"d":0.3},{"e":12879,"d":1.4},{"e":12904,"d":1.9},{"e":12929,"d":0.8},{"e":12954,"d":2.2},{"e":12979,"d":1.1},{"e":12020,"d":3.3},{"e":12120,"d":4.5},{"e":12220,"d":2.8},{"e":12320,"d":3.9},{"e":12420,"d":3.1},{"e":12520,"d":4.2},{"e":12620,"d":2.7},{"e":12720,"d":3.6},{"e":12820,"d":4.8},{"e":12920,"d":3.0},{"e":12080,"d":6.1},{"e":12340,"d":7.4},{"e":12600,"d":5.5},{"e":12860,"d":6.8},{"e":12470,"d":9.4},
{"e":12007,"d":2.3},{"e":12029,"d":0.9},{"e":12047,"d":1.5},{"e":12071,"d":2.8},{"e":12095,"d":0.5},{"e":12118,"d":1.9},{"e":12139,"d":3.1},{"e":12162,"d":1.2},{"e":12187,"d":0.7},{"e":12206,"d":2.5},{"e":12232,"d":1.6},{"e":12254,"d":0.3},{"e":12277,"d":2.1},{"e":12299,"d":3.3},{"e":12325,"d":1.0},{"e":12347,"d":1.8},{"e":12370,"d":2.7},{"e":12393,"d":0.6},{"e":12416,"d":1.4},{"e":12440,"d":2.3},{"e":12463,"d":3.0},{"e":12486,"d":1.1},{"e":12509,"d":0.4},{"e":12533,"d":1.9},{"e":12555,"d":2.6},{"e":12580,"d":1.3},{"e":12603,"d":0.8},{"e":12626,"d":3.2},{"e":12650,"d":2.0},{"e":12672,"d":1.5},{"e":12696,"d":0.5},{"e":12719,"d":2.4},{"e":12741,"d":1.1},{"e":12765,"d":2.9},{"e":12788,"d":0.7},{"e":12811,"d":1.7},{"e":12835,"d":3.4},{"e":12858,"d":2.2},{"e":12881,"d":1.0},{"e":12905,"d":0.4},{"e":12929,"d":2.6},{"e":12952,"d":1.6},{"e":12976,"d":2.0},{"e":12050,"d":3.7},{"e":12175,"d":4.2},{"e":12300,"d":3.5},{"e":12430,"d":4.6},{"e":12560,"d":3.9},{"e":12690,"d":3.3},{"e":12815,"d":4.4},{"e":12945,"d":3.8},
{"e":13008,"d":0.6},{"e":13033,"d":1.5},{"e":13058,"d":2.2},{"e":13083,"d":0.9},{"e":13108,"d":1.3},{"e":13133,"d":0.3},{"e":13158,"d":1.9},{"e":13183,"d":2.4},{"e":13208,"d":1.0},{"e":13233,"d":0.5},{"e":13258,"d":1.7},{"e":13283,"d":1.2},{"e":13308,"d":2.0},{"e":13333,"d":0.7},{"e":13358,"d":1.4},{"e":13383,"d":2.5},{"e":13408,"d":0.4},{"e":13433,"d":1.1},{"e":13458,"d":1.8},{"e":13483,"d":0.8},{"e":13508,"d":2.3},{"e":13533,"d":1.5},{"e":13558,"d":0.6},{"e":13583,"d":1.0},{"e":13608,"d":2.1},{"e":13633,"d":1.6},{"e":13658,"d":0.3},{"e":13683,"d":1.3},{"e":13708,"d":1.9},{"e":13733,"d":0.9},{"e":13758,"d":2.4},{"e":13783,"d":1.2},{"e":13808,"d":0.5},{"e":13833,"d":1.7},{"e":13858,"d":2.0},{"e":13883,"d":0.8},{"e":13908,"d":1.4},{"e":13933,"d":2.2},{"e":13958,"d":1.0},{"e":13983,"d":0.4},{"e":13015,"d":4.0},{"e":13115,"d":3.2},{"e":13215,"d":2.8},{"e":13315,"d":4.6},{"e":13415,"d":3.5},{"e":13515,"d":2.7},{"e":13615,"d":4.3},{"e":13715,"d":3.0},{"e":13815,"d":3.8},{"e":13915,"d":4.9},{"e":13070,"d":5.7},{"e":13330,"d":7.8},{"e":13590,"d":6.3},{"e":13850,"d":5.2},{"e":13260,"d":10.3},{"e":13700,"d":9.0},
{"e":13014,"d":1.1},{"e":13035,"d":2.4},{"e":13052,"d":3.2},{"e":13080,"d":0.7},{"e":13101,"d":1.8},{"e":13127,"d":2.6},{"e":13149,"d":1.3},{"e":13168,"d":0.4},{"e":13196,"d":2.0},{"e":13219,"d":3.0},{"e":13241,"d":1.5},{"e":13263,"d":0.8},{"e":13290,"d":2.3},{"e":13312,"d":1.0},{"e":13333,"d":2.9},{"e":13361,"d":1.6},{"e":13384,"d":0.5},{"e":13402,"d":2.1},{"e":13429,"d":3.4},{"e":13455,"d":1.2},{"e":13474,"d":0.9},{"e":13497,"d":2.7},{"e":13520,"d":1.7},{"e":13546,"d":0.3},{"e":13568,"d":2.4},{"e":13589,"d":1.4},{"e":13615,"d":3.1},{"e":13638,"d":0.6},{"e":13660,"d":1.9},{"e":13684,"d":2.5},{"e":13707,"d":1.1},{"e":13731,"d":0.7},{"e":13752,"d":2.2},{"e":13776,"d":3.3},{"e":13799,"d":1.5},{"e":13823,"d":0.9},{"e":13846,"d":2.8},{"e":13870,"d":1.2},{"e":13893,"d":0.4},{"e":13918,"d":2.0},{"e":13941,"d":1.7},{"e":13965,"d":2.9},{"e":13988,"d":1.3},{"e":13060,"d":3.5},{"e":13185,"d":4.1},{"e":13315,"d":3.8},{"e":13440,"d":4.5},{"e":13570,"d":3.4},{"e":13700,"d":4.0},{"e":13825,"d":3.6},{"e":13955,"d":4.7},
{"e":14004,"d":1.4},{"e":14029,"d":0.7},{"e":14054,"d":2.0},{"e":14079,"d":1.1},{"e":14104,"d":0.4},{"e":14129,"d":1.8},{"e":14154,"d":2.5},{"e":14179,"d":0.9},{"e":14204,"d":1.3},{"e":14229,"d":0.5},{"e":14254,"d":2.2},{"e":14279,"d":1.6},{"e":14304,"d":0.8},{"e":14329,"d":1.0},{"e":14354,"d":2.4},{"e":14379,"d":0.3},{"e":14404,"d":1.5},{"e":14429,"d":1.9},{"e":14454,"d":0.6},{"e":14479,"d":1.2},{"e":14504,"d":2.1},{"e":14529,"d":0.9},{"e":14554,"d":1.7},{"e":14579,"d":0.4},{"e":14604,"d":2.3},{"e":14629,"d":1.1},{"e":14654,"d":0.7},{"e":14679,"d":1.5},{"e":14704,"d":2.0},{"e":14729,"d":1.3},{"e":14754,"d":0.5},{"e":14779,"d":1.8},{"e":14804,"d":2.6},{"e":14829,"d":1.0},{"e":14854,"d":0.3},{"e":14879,"d":1.6},{"e":14904,"d":2.1},{"e":14929,"d":0.8},{"e":14954,"d":1.2},{"e":14979,"d":1.9},{"e":14010,"d":3.6},{"e":14110,"d":2.9},{"e":14210,"d":4.4},{"e":14310,"d":3.3},{"e":14410,"d":2.7},{"e":14510,"d":4.1},{"e":14610,"d":3.7},{"e":14710,"d":4.8},{"e":14810,"d":3.0},{"e":14910,"d":4.2},{"e":14060,"d":6.6},{"e":14320,"d":5.4},{"e":14580,"d":7.2},{"e":14840,"d":6.0},{"e":14450,"d":9.6},{"e":14905,"d":10.5},
{"e":14007,"d":2.7},{"e":14029,"d":1.1},{"e":14047,"d":0.5},{"e":14071,"d":1.8},{"e":14095,"d":3.0},{"e":14118,"d":2.2},{"e":14139,"d":0.8},{"e":14162,"d":1.4},{"e":14187,"d":2.5},{"e":14206,"d":0.4},{"e":14232,"d":1.9},{"e":14254,"d":3.2},{"e":14277,"d":1.2},{"e":14299,"d":0.6},{"e":14325,"d":2.1},{"e":14347,"d":1.6},{"e":14370,"d":2.9},{"e":14393,"d":0.9},{"e":14416,"d":1.3},{"e":14440,"d":3.4},{"e":14463,"d":2.0},{"e":14486,"d":0.5},{"e":14509,"d":1.7},{"e":14533,"d":2.6},{"e":14555,"d":1.0},{"e":14580,"d":0.3},{"e":14603,"d":2.3},{"e":14626,"d":1.5},{"e":14650,"d":3.1},{"e":14672,"d":0.7},{"e":14696,"d":1.9},{"e":14719,"d":2.4},{"e":14741,"d":1.1},{"e":14765,"d":0.6},{"e":14788,"d":2.8},{"e":14811,"d":1.4},{"e":14835,"d":2.0},{"e":14858,"d":0.8},{"e":14881,"d":3.3},{"e":14905,"d":1.6},{"e":14929,"d":0.4},{"e":14952,"d":2.2},{"e":14976,"d":1.2},{"e":14055,"d":3.9},{"e":14185,"d":4.4},{"e":14310,"d":3.3},{"e":14440,"d":4.0},{"e":14565,"d":3.7},{"e":14695,"d":4.6},{"e":14825,"d":3.5},{"e":14950,"d":4.2},
{"e":15007,"d":0.9},{"e":15032,"d":1.7},{"e":15057,"d":0.4},{"e":15082,"d":2.2},{"e":15107,"d":1.2},{"e":15132,"d":0.6},{"e":15157,"d":1.5},{"e":15182,"d":2.4},{"e":15207,"d":1.0},{"e":15232,"d":0.3},{"e":15257,"d":1.9},{"e":15282,"d":1.3},{"e":15307,"d":0.7},{"e":15332,"d":2.0},{"e":15357,"d":1.6},{"e":15382,"d":0.5},{"e":15407,"d":1.1},{"e":15432,"d":2.3},{"e":15457,"d":0.8},{"e":15482,"d":1.4},{"e":15507,"d":1.8},{"e":15532,"d":0.4},{"e":15557,"d":2.5},{"e":15582,"d":1.2},{"e":15607,"d":0.9},{"e":15632,"d":1.6},{"e":15657,"d":2.1},{"e":15682,"d":0.6},{"e":15707,"d":1.0},{"e":15732,"d":1.9},{"e":15757,"d":0.3},{"e":15782,"d":1.4},{"e":15807,"d":2.2},{"e":15832,"d":0.8},{"e":15857,"d":1.7},{"e":15882,"d":1.1},{"e":15907,"d":2.4},{"e":15932,"d":0.5},{"e":15957,"d":1.3},{"e":15982,"d":2.0},{"e":15020,"d":4.3},{"e":15120,"d":3.1},{"e":15220,"d":2.8},{"e":15320,"d":3.9},{"e":15420,"d":4.6},{"e":15520,"d":3.4},{"e":15620,"d":2.7},{"e":15720,"d":4.0},{"e":15820,"d":3.5},{"e":15920,"d":3.0},{"e":15080,"d":5.8},{"e":15340,"d":7.1},{"e":15600,"d":6.4},{"e":15860,"d":8.0},{"e":15450,"d":9.2},
{"e":15014,"d":1.4},{"e":15035,"d":2.1},{"e":15052,"d":0.6},{"e":15080,"d":3.0},{"e":15101,"d":1.7},{"e":15127,"d":0.9},{"e":15149,"d":2.4},{"e":15168,"d":1.2},{"e":15196,"d":3.3},{"e":15219,"d":0.5},{"e":15241,"d":1.9},{"e":15263,"d":2.7},{"e":15290,"d":1.0},{"e":15312,"d":0.4},{"e":15333,"d":2.2},{"e":15361,"d":1.5},{"e":15384,"d":3.1},{"e":15402,"d":0.8},{"e":15429,"d":1.6},{"e":15455,"d":2.5},{"e":15474,"d":1.1},{"e":15497,"d":0.3},{"e":15520,"d":2.0},{"e":15546,"d":2.9},{"e":15568,"d":1.3},{"e":15589,"d":0.7},{"e":15615,"d":2.3},{"e":15638,"d":1.8},{"e":15660,"d":3.4},{"e":15684,"d":0.5},{"e":15707,"d":1.4},{"e":15731,"d":2.6},{"e":15752,"d":1.0},{"e":15776,"d":0.6},{"e":15799,"d":2.1},{"e":15823,"d":1.7},{"e":15846,"d":3.0},{"e":15870,"d":0.9},{"e":15893,"d":1.2},{"e":15918,"d":2.4},{"e":15941,"d":0.4},{"e":15965,"d":1.9},{"e":15988,"d":2.8},{"e":15050,"d":4.0},{"e":15180,"d":3.5},{"e":15305,"d":4.7},{"e":15435,"d":3.8},{"e":15560,"d":4.3},{"e":15690,"d":3.4},{"e":15820,"d":4.1},{"e":15945,"d":3.7},
{"e":16003,"d":1.6},{"e":16028,"d":0.5},{"e":16053,"d":1.1},{"e":16078,"d":2.3},{"e":16103,"d":0.8},{"e":16128,"d":1.4},{"e":16153,"d":2.0},{"e":16178,"d":0.3},{"e":16203,"d":1.7},{"e":16228,"d":1.0},{"e":16253,"d":2.4},{"e":16278,"d":0.6},{"e":16303,"d":1.3},{"e":16328,"d":1.9},{"e":16353,"d":0.9},{"e":16378,"d":2.1},{"e":16403,"d":0.4},{"e":16428,"d":1.5},{"e":16453,"d":1.2},{"e":16478,"d":2.5},{"e":16503,"d":0.7},{"e":16528,"d":1.8},{"e":16553,"d":1.0},{"e":16578,"d":0.3},{"e":16603,"d":2.2},{"e":16628,"d":1.4},{"e":16653,"d":0.8},{"e":16678,"d":1.6},{"e":16703,"d":2.0},{"e":16728,"d":0.5},{"e":16753,"d":1.2},{"e":16778,"d":2.3},{"e":16803,"d":0.9},{"e":16828,"d":1.7},{"e":16853,"d":0.4},{"e":16878,"d":1.1},{"e":16903,"d":2.1},{"e":16928,"d":1.5},{"e":16953,"d":0.6},{"e":16978,"d":1.9},{"e":16015,"d":3.8},{"e":16115,"d":2.7},{"e":16215,"d":4.5},{"e":16315,"d":3.2},{"e":16415,"d":2.9},{"e":16515,"d":4.1},{"e":16615,"d":3.6},{"e":16715,"d":4.7},{"e":16815,"d":3.0},{"e":16915,"d":3.4},{"e":16070,"d":6.2},{"e":16330,"d":5.5},{"e":16590,"d":7.6},{"e":16850,"d":6.7},{"e":16400,"d":10.1},{"e":16760,"d":9.3},
{"e":16007,"d":0.9},{"e":16029,"d":2.5},{"e":16047,"d":1.3},{"e":16071,"d":0.4},{"e":16095,"d":2.0},{"e":16118,"d":3.1},{"e":16139,"d":1.6},{"e":16162,"d":0.7},{"e":16187,"d":2.3},{"e":16206,"d":1.1},{"e":16232,"d":2.9},{"e":16254,"d":0.5},{"e":16277,"d":1.8},{"e":16299,"d":2.6},{"e":16325,"d":1.2},{"e":16347,"d":0.3},{"e":16370,"d":2.2},{"e":16393,"d":3.3},{"e":16416,"d":1.5},{"e":16440,"d":0.8},{"e":16463,"d":1.9},{"e":16486,"d":2.7},{"e":16509,"d":1.0},{"e":16533,"d":0.6},{"e":16555,"d":2.4},{"e":16580,"d":1.7},{"e":16603,"d":3.0},{"e":16626,"d":0.9},{"e":16650,"d":1.4},{"e":16672,"d":2.1},{"e":16696,"d":0.4},{"e":16719,"d":2.8},{"e":16741,"d":1.6},{"e":16765,"d":1.1},{"e":16788,"d":3.2},{"e":16811,"d":0.7},{"e":16835,"d":2.0},{"e":16858,"d":1.3},{"e":16881,"d":2.5},{"e":16905,"d":0.5},{"e":16929,"d":1.8},{"e":16952,"d":3.0},{"e":16976,"d":1.0},{"e":16055,"d":3.6},{"e":16180,"d":4.2},{"e":16305,"d":3.4},{"e":16435,"d":4.8},{"e":16560,"d":3.9},{"e":16690,"d":3.3},{"e":16820,"d":4.5},{"e":16945,"d":3.7},
{"e":17006,"d":0.8},{"e":17031,"d":1.5},{"e":17056,"d":2.1},{"e":17081,"d":0.4},{"e":17106,"d":1.2},{"e":17131,"d":1.9},{"e":17156,"d":0.7},{"e":17181,"d":2.4},{"e":17206,"d":1.0},{"e":17231,"d":1.6},{"e":17256,"d":0.3},{"e":17281,"d":1.3},{"e":17306,"d":2.2},{"e":17331,"d":0.9},{"e":17356,"d":1.7},{"e":17381,"d":0.5},{"e":17406,"d":2.0},{"e":17431,"d":1.1},{"e":17456,"d":1.4},{"e":17481,"d":2.5},{"e":17506,"d":0.6},{"e":17531,"d":1.8},{"e":17556,"d":1.2},{"e":17581,"d":0.4},{"e":17606,"d":2.3},{"e":17631,"d":0.9},{"e":17656,"d":1.5},{"e":17681,"d":2.0},{"e":17706,"d":0.7},{"e":17731,"d":1.3},{"e":17756,"d":1.9},{"e":17781,"d":0.3},{"e":17806,"d":2.2},{"e":17831,"d":1.0},{"e":17856,"d":1.6},{"e":17881,"d":0.5},{"e":17906,"d":2.4},{"e":17931,"d":1.2},{"e":17956,"d":0.8},{"e":17981,"d":1.7},{"e":17010,"d":3.1},{"e":17110,"d":4.4},{"e":17210,"d":3.6},{"e":17310,"d":2.8},{"e":17410,"d":4.0},{"e":17510,"d":3.3},{"e":17610,"d":4.8},{"e":17710,"d":2.9},{"e":17810,"d":3.7},{"e":17910,"d":4.2},{"e":17060,"d":5.6},{"e":17320,"d":7.0},{"e":17580,"d":6.1},{"e":17840,"d":8.3},{"e":17500,"d":9.7},{"e":17950,"d":11.0},
{"e":17014,"d":2.0},{"e":17035,"d":0.7},{"e":17052,"d":1.6},{"e":17080,"d":2.8},{"e":17101,"d":1.0},{"e":17127,"d":0.4},{"e":17149,"d":2.3},{"e":17168,"d":3.2},{"e":17196,"d":1.4},{"e":17219,"d":0.8},{"e":17241,"d":2.6},{"e":17263,"d":1.7},{"e":17290,"d":0.5},{"e":17312,"d":2.1},{"e":17333,"d":3.0},{"e":17361,"d":1.2},{"e":17384,"d":0.6},{"e":17402,"d":1.9},{"e":17429,"d":2.7},{"e":17455,"d":1.1},{"e":17474,"d":3.4},{"e":17497,"d":0.9},{"e":17520,"d":1.5},{"e":17546,"d":2.2},{"e":17568,"d":0.3},{"e":17589,"d":1.8},{"e":17615,"d":2.9},{"e":17638,"d":1.3},{"e":17660,"d":0.7},{"e":17684,"d":2.4},{"e":17707,"d":1.6},{"e":17731,"d":3.1},{"e":17752,"d":0.5},{"e":17776,"d":1.2},{"e":17799,"d":2.5},{"e":17823,"d":1.9},{"e":17846,"d":0.8},{"e":17870,"d":2.2},{"e":17893,"d":1.4},{"e":17918,"d":3.3},{"e":17941,"d":0.6},{"e":17965,"d":1.7},{"e":17988,"d":2.6},{"e":17055,"d":4.1},{"e":17185,"d":3.5},{"e":17310,"d":4.4},{"e":17440,"d":3.8},{"e":17565,"d":4.6},{"e":17695,"d":3.3},{"e":17825,"d":4.0},{"e":17950,"d":3.6},
{"e":18002,"d":1.3},{"e":18027,"d":2.0},{"e":18052,"d":0.6},{"e":18077,"d":1.6},{"e":18102,"d":2.4},{"e":18127,"d":0.9},{"e":18152,"d":1.1},{"e":18177,"d":0.3},{"e":18202,"d":1.8},{"e":18227,"d":2.2},{"e":18252,"d":0.7},{"e":18277,"d":1.4},{"e":18302,"d":1.0},{"e":18327,"d":2.5},{"e":18352,"d":0.4},{"e":18377,"d":1.7},{"e":18402,"d":1.2},{"e":18427,"d":2.1},{"e":18452,"d":0.8},{"e":18477,"d":1.5},{"e":18502,"d":0.5},{"e":18527,"d":1.9},{"e":18552,"d":2.3},{"e":18577,"d":1.0},{"e":18602,"d":0.6},{"e":18627,"d":1.4},{"e":18652,"d":2.0},{"e":18677,"d":0.3},{"e":18702,"d":1.7},{"e":18727,"d":1.1},{"e":18752,"d":2.4},{"e":18777,"d":0.8},{"e":18802,"d":1.3},{"e":18827,"d":1.9},{"e":18852,"d":0.5},{"e":18877,"d":2.2},{"e":18902,"d":1.0},{"e":18927,"d":1.6},{"e":18952,"d":0.7},{"e":18977,"d":2.0},{"e":18015,"d":4.6},{"e":18115,"d":3.2},{"e":18215,"d":2.7},{"e":18315,"d":3.9},{"e":18415,"d":4.3},{"e":18515,"d":3.0},{"e":18615,"d":3.5},{"e":18715,"d":4.9},{"e":18815,"d":2.8},{"e":18915,"d":3.8},{"e":18070,"d":6.9},{"e":18330,"d":5.3},{"e":18590,"d":7.3},{"e":18850,"d":6.0},{"e":18480,"d":9.0},{"e":18700,"d":10.4},
{"e":18007,"d":1.6},{"e":18029,"d":0.4},{"e":18047,"d":2.4},{"e":18071,"d":1.1},{"e":18095,"d":3.0},{"e":18118,"d":1.8},{"e":18139,"d":0.7},{"e":18162,"d":2.2},{"e":18187,"d":1.3},{"e":18206,"d":2.9},{"e":18232,"d":0.5},{"e":18254,"d":1.5},{"e":18277,"d":3.3},{"e":18299,"d":2.0},{"e":18325,"d":0.9},{"e":18347,"d":1.2},{"e":18370,"d":2.7},{"e":18393,"d":0.6},{"e":18416,"d":1.9},{"e":18440,"d":2.4},{"e":18463,"d":1.0},{"e":18486,"d":3.1},{"e":18509,"d":1.6},{"e":18533,"d":0.3},{"e":18555,"d":2.1},{"e":18580,"d":1.4},{"e":18603,"d":2.8},{"e":18626,"d":0.8},{"e":18650,"d":1.7},{"e":18672,"d":3.4},{"e":18696,"d":1.1},{"e":18719,"d":0.6},{"e":18741,"d":2.3},{"e":18765,"d":1.5},{"e":18788,"d":2.6},{"e":18811,"d":0.4},{"e":18835,"d":1.8},{"e":18858,"d":3.0},{"e":18881,"d":1.2},{"e":18905,"d":0.7},{"e":18929,"d":2.5},{"e":18952,"d":1.9},{"e":18976,"d":1.0},{"e":18060,"d":3.8},{"e":18185,"d":4.3},{"e":18315,"d":3.4},{"e":18440,"d":4.7},{"e":18570,"d":3.6},{"e":18695,"d":4.1},{"e":18825,"d":3.9},{"e":18950,"d":4.5},
{"e":19004,"d":0.7},{"e":19029,"d":1.4},{"e":19054,"d":2.2},{"e":19079,"d":1.0},{"e":19104,"d":0.4},{"e":19129,"d":1.8},{"e":19154,"d":2.5},{"e":19179,"d":1.2},{"e":19204,"d":0.8},{"e":19229,"d":1.6},{"e":19254,"d":2.0},{"e":19279,"d":0.3},{"e":19304,"d":1.3},{"e":19329,"d":1.9},{"e":19354,"d":0.9},{"e":19379,"d":2.3},{"e":19404,"d":1.1},{"e":19429,"d":0.5},{"e":19454,"d":1.7},{"e":19479,"d":2.1},{"e":19504,"d":0.8},{"e":19529,"d":1.4},{"e":19554,"d":0.4},{"e":19579,"d":2.4},{"e":19604,"d":1.2},{"e":19629,"d":0.6},{"e":19654,"d":1.8},{"e":19679,"d":1.0},{"e":19704,"d":2.2},{"e":19729,"d":1.5},{"e":19754,"d":0.3},{"e":19779,"d":1.9},{"e":19804,"d":1.1},{"e":19829,"d":2.4},{"e":19854,"d":0.7},{"e":19879,"d":1.3},{"e":19904,"d":2.0},{"e":19929,"d":0.9},{"e":19954,"d":1.6},{"e":19979,"d":0.5},{"e":19996,"d":1.2},{"e":19010,"d":3.4},{"e":19110,"d":4.1},{"e":19210,"d":2.9},{"e":19310,"d":3.7},{"e":19410,"d":4.5},{"e":19510,"d":3.1},{"e":19610,"d":2.8},{"e":19710,"d":4.0},{"e":19810,"d":3.3},{"e":19910,"d":4.7},{"e":19990,"d":3.6},{"e":19070,"d":6.4},{"e":19330,"d":5.7},{"e":19590,"d":7.8},{"e":19850,"d":6.2},{"e":19980,"d":8.4},{"e":19500,"d":9.5},{"e":19765,"d":10.6},{"e":19992,"d":8.8},
{"e":19014,"d":1.3},{"e":19035,"d":2.6},{"e":19052,"d":0.5},{"e":19080,"d":1.9},{"e":19101,"d":3.1},{"e":19127,"d":1.0},{"e":19149,"d":0.7},{"e":19168,"d":2.3},{"e":19196,"d":1.5},{"e":19219,"d":2.9},{"e":19241,"d":0.4},{"e":19263,"d":1.7},{"e":19290,"d":2.4},{"e":19312,"d":1.1},{"e":19333,"d":3.3},{"e":19361,"d":0.8},{"e":19384,"d":1.4},{"e":19402,"d":2.1},{"e":19429,"d":2.8},{"e":19455,"d":0.6},{"e":19474,"d":1.6},{"e":19497,"d":3.0},{"e":19520,"d":1.2},{"e":19546,"d":0.3},{"e":19568,"d":2.0},{"e":19589,"d":1.8},{"e":19615,"d":2.7},{"e":19638,"d":0.9},{"e":19660,"d":1.3},{"e":19684,"d":3.2},{"e":19707,"d":2.2},{"e":19731,"d":0.5},{"e":19752,"d":1.6},{"e":19776,"d":2.5},{"e":19799,"d":1.0},{"e":19823,"d":0.7},{"e":19846,"d":2.0},{"e":19870,"d":3.4},{"e":19893,"d":1.4},{"e":19918,"d":0.6},{"e":19941,"d":2.3},{"e":19965,"d":1.8},{"e":19988,"d":2.9},{"e":19050,"d":3.7},{"e":19180,"d":4.4},{"e":19305,"d":3.5},{"e":19435,"d":4.0},{"e":19560,"d":3.3},{"e":19690,"d":4.8},{"e":19820,"d":3.9},{"e":19950,"d":4.2}
],
"smooth": [
{"e":0,"d":9.0},{"e":40,"d":9.3},{"e":80,"d":8.8},{"e":120,"d":9.2},{"e":160,"d":8.6},{"e":200,"d":8.9},{"e":240,"d":8.5},{"e":280,"d":9.0},{"e":320,"d":8.3},{"e":360,"d":7.6},{"e":400,"d":7.2},{"e":440,"d":6.6},{"e":470,"d":5.5},{"e":500,"d":4.6},{"e":530,"d":3.9},{"e":560,"d":3.7},{"e":600,"d":3.5},{"e":640,"d":3.3},{"e":680,"d":3.0},{"e":720,"d":2.9},{"e":760,"d":2.8},{"e":800,"d":2.6},{"e":840,"d":2.7},{"e":880,"d":2.4},{"e":920,"d":2.7},{"e":960,"d":3.1},{"e":1000,"d":2.9},{"e":1040,"d":3.2},{"e":1080,"d":3.0},{"e":1120,"d":3.3},{"e":1160,"d":3.1},{"e":1200,"d":3.0},{"e":1240,"d":3.2},{"e":1280,"d":3.4},{"e":1320,"d":3.7},{"e":1360,"d":3.5},{"e":1400,"d":3.2},{"e":1440,"d":3.4},{"e":1480,"d":3.1},{"e":1520,"d":3.3},{"e":1560,"d":2.9},{"e":1600,"d":3.1},{"e":1640,"d":2.8},{"e":1680,"d":3.0},{"e":1720,"d":2.7},{"e":1760,"d":3.1},{"e":1800,"d":2.9},{"e":1840,"d":2.6},{"e":1880,"d":2.8},{"e":1920,"d":2.7},{"e":1960,"d":2.9},{"e":2000,"d":2.6},{"e":2060,"d":2.8},{"e":2120,"d":2.6},{"e":2180,"d":2.9},{"e":2240,"d":2.7},{"e":2300,"d":2.5},{"e":2360,"d":2.7},{"e":2420,"d":2.6},{"e":2480,"d":2.8},{"e":2540,"d":2.4},{"e":2600,"d":2.8},{"e":2660,"d":2.7},{"e":2720,"d":2.9},{"e":2780,"d":3.1},{"e":2840,"d":2.8},{"e":2900,"d":2.6},{"e":2960,"d":3.0},{"e":3020,"d":2.7},{"e":3080,"d":2.5},{"e":3140,"d":2.8},{"e":3200,"d":3.1},{"e":3240,"d":3.2},{"e":3280,"d":2.6},{"e":3340,"d":2.4},{"e":3400,"d":2.5},{"e":3460,"d":2.4},{"e":3520,"d":2.6},{"e":3580,"d":2.5},{"e":3640,"d":3.0},{"e":3680,"d":3.4},{"e":3720,"d":3.2},{"e":3780,"d":2.8},{"e":3840,"d":2.5},{"e":3900,"d":2.4},{"e":3960,"d":2.6},{"e":4020,"d":2.7},{"e":4080,"d":2.5},{"e":4140,"d":2.8},{"e":4200,"d":2.7},{"e":4260,"d":2.9},{"e":4320,"d":2.6},{"e":4380,"d":2.8},{"e":4440,"d":2.7},{"e":4500,"d":2.4},{"e":4560,"d":2.2},{"e":4620,"d":2.4},{"e":4680,"d":2.6},{"e":4740,"d":2.3},{"e":4800,"d":2.5},{"e":4860,"d":2.4},{"e":4920,"d":2.6},{"e":4980,"d":2.5},{"e":5040,"d":2.4},{"e":5100,"d":2.6},{"e":5160,"d":2.5},{"e":5220,"d":2.6},{"e":5280,"d":2.4},{"e":5340,"d":2.7},{"e":5400,"d":2.5},{"e":5460,"d":2.6},{"e":5520,"d":2.5},{"e":5580,"d":2.4},{"e":5640,"d":2.3},{"e":5700,"d":2.5},{"e":5760,"d":2.4},{"e":5820,"d":2.6},{"e":5880,"d":2.5},{"e":5940,"d":2.4},{"e":6000,"d":2.6},{"e":6030,"d":2.8},{"e":6080,"d":2.5},{"e":6140,"d":2.4},{"e":6200,"d":2.3},{"e":6260,"d":2.2},{"e":6320,"d":2.5},{"e":6380,"d":2.4},{"e":6440,"d":2.6},{"e":6500,"d":2.5},{"e":6540,"d":2.8},{"e":6600,"d":2.4},{"e":6660,"d":2.3},{"e":6720,"d":2.5},{"e":6760,"d":2.3},{"e":6820,"d":2.4},{"e":6880,"d":2.5},{"e":6940,"d":2.4},{"e":7000,"d":2.6},{"e":7060,"d":2.4},{"e":7120,"d":2.7},{"e":7150,"d":2.8},{"e":7200,"d":2.5},{"e":7260,"d":2.4},{"e":7320,"d":2.5},{"e":7380,"d":2.3},{"e":7440,"d":2.4},{"e":7500,"d":2.3},{"e":7540,"d":2.5},{"e":7600,"d":2.3},{"e":7660,"d":2.2},{"e":7720,"d":2.4},{"e":7780,"d":2.1},{"e":7840,"d":2.3},{"e":7900,"d":2.2},{"e":7960,"d":2.4},{"e":8020,"d":2.3},{"e":8080,"d":2.5},{"e":8140,"d":2.7},{"e":8200,"d":2.3},{"e":8260,"d":2.1},{"e":8340,"d":1.9},{"e":8400,"d":2.1},{"e":8460,"d":2.2},{"e":8520,"d":2.0},{"e":8580,"d":2.3},{"e":8640,"d":2.2},{"e":8700,"d":2.5},{"e":8760,"d":2.8},{"e":8800,"d":2.7},{"e":8860,"d":2.3},{"e":8920,"d":2.1},{"e":8980,"d":2.0},{"e":9040,"d":2.3},{"e":9100,"d":2.4},{"e":9160,"d":2.3},{"e":9220,"d":2.4},{"e":9280,"d":2.3},{"e":9340,"d":2.2},{"e":9400,"d":2.3},{"e":9460,"d":2.2},{"e":9520,"d":2.1},{"e":9580,"d":2.2},{"e":9640,"d":2.0},{"e":9700,"d":2.1},{"e":9780,"d":2.0},{"e":9840,"d":2.1},{"e":9900,"d":2.0},{"e":9960,"d":2.1},{"e":10020,"d":2.2},{"e":10080,"d":2.1},{"e":10140,"d":2.3},{"e":10200,"d":2.1},{"e":10260,"d":2.2},{"e":10320,"d":2.0},{"e":10380,"d":2.1},{"e":10420,"d":1.9},{"e":10480,"d":2.0},{"e":10540,"d":2.1},{"e":10600,"d":2.0},{"e":10680,"d":2.2},{"e":10740,"d":2.3},{"e":10800,"d":2.1},{"e":10860,"d":2.2},{"e":10920,"d":2.0},{"e":10980,"d":1.9},{"e":11040,"d":2.1},{"e":11100,"d":2.0},{"e":11160,"d":2.1},{"e":11220,"d":2.1},{"e":11280,"d":2.0},{"e":11340,"d":2.0},{"e":11400,"d":2.1},{"e":11460,"d":1.9},{"e":11540,"d":2.0},{"e":11600,"d":2.1},{"e":11660,"d":1.9},{"e":11720,"d":2.0},{"e":11780,"d":2.1},{"e":11840,"d":2.0},{"e":11900,"d":2.2},{"e":11940,"d":2.3},{"e":12000,"d":2.0},{"e":12060,"d":2.1},{"e":12120,"d":1.9},{"e":12180,"d":1.8},{"e":12240,"d":2.0},{"e":12300,"d":1.9},{"e":12360,"d":2.1},{"e":12420,"d":2.0},{"e":12480,"d":2.2},{"e":12540,"d":2.1},{"e":12600,"d":2.2},{"e":12660,"d":2.4},{"e":12720,"d":2.2},{"e":12780,"d":2.1},{"e":12840,"d":2.2},{"e":12900,"d":2.0},{"e":12960,"d":2.1},{"e":13020,"d":2.0},{"e":13080,"d":2.1},{"e":13140,"d":2.2},{"e":13200,"d":2.0},{"e":13260,"d":2.1},{"e":13320,"d":2.2},{"e":13380,"d":2.0},{"e":13440,"d":2.1},{"e":13500,"d":2.2},{"e":13560,"d":2.0},{"e":13620,"d":2.2},{"e":13690,"d":2.3},{"e":13750,"d":2.1},{"e":13850,"d":1.9},{"e":13920,"d":2.2},{"e":13990,"d":2.4},{"e":14050,"d":2.6},{"e":14100,"d":2.2},{"e":14160,"d":2.1},{"e":14220,"d":2.3},{"e":14280,"d":2.0},{"e":14330,"d":1.8},{"e":14400,"d":1.9},{"e":14460,"d":2.0},{"e":14520,"d":2.1},{"e":14580,"d":2.0},{"e":14610,"d":2.2},{"e":14680,"d":2.1},{"e":14740,"d":2.3},{"e":14800,"d":2.2},{"e":14850,"d":2.5},{"e":14900,"d":2.1},{"e":14960,"d":2.3},{"e":15020,"d":2.2},{"e":15090,"d":2.4},{"e":15150,"d":2.2},{"e":15200,"d":2.0},{"e":15250,"d":1.8},{"e":15300,"d":1.9},{"e":15360,"d":2.0},{"e":15420,"d":2.1},{"e":15470,"d":2.2},{"e":15530,"d":2.4},{"e":15580,"d":2.2},{"e":15640,"d":2.1},{"e":15700,"d":2.2},{"e":15770,"d":1.9},{"e":15830,"d":2.1},{"e":15890,"d":2.0},{"e":15950,"d":2.1},{"e":16010,"d":2.1},{"e":16080,"d":2.0},{"e":16150,"d":2.1},{"e":16220,"d":2.0},{"e":16280,"d":2.1},{"e":16330,"d":1.9},{"e":16400,"d":2.0},{"e":16460,"d":1.9},{"e":16520,"d":2.0},{"e":16580,"d":2.1},{"e":16640,"d":1.9},{"e":16700,"d":2.0},{"e":16730,"d":2.1},{"e":16800,"d":1.9},{"e":16860,"d":1.8},{"e":16930,"d":1.8},{"e":16970,"d":1.7},{"e":17040,"d":1.9},{"e":17100,"d":1.8},{"e":17160,"d":2.0},{"e":17210,"d":2.1},{"e":17270,"d":1.9},{"e":17330,"d":1.8},{"e":17400,"d":2.0},{"e":17450,"d":1.8},{"e":17520,"d":1.9},{"e":17580,"d":2.0},{"e":17640,"d":1.9},{"e":17700,"d":2.1},{"e":17770,"d":2.2},{"e":17830,"d":2.1},{"e":17900,"d":2.2},{"e":17960,"d":2.1},{"e":18030,"d":2.2},{"e":18100,"d":2.1},{"e":18170,"d":2.3},{"e":18230,"d":2.2},{"e":18300,"d":2.0},{"e":18360,"d":2.1},{"e":18410,"d":1.9},{"e":18470,"d":2.1},{"e":18530,"d":2.2},{"e":18600,"d":2.0},{"e":18660,"d":2.1},{"e":18720,"d":2.0},{"e":18790,"d":2.2},{"e":18850,"d":2.3},{"e":18900,"d":2.1},{"e":18960,"d":2.0},{"e":19020,"d":1.9},{"e":19090,"d":2.0},{"e":19150,"d":2.2},{"e":19210,"d":1.8},{"e":19270,"d":2.0},{"e":19320,"d":2.1},{"e":19370,"d":2.1},{"e":19430,"d":2.0},{"e":19490,"d":1.9},{"e":19550,"d":1.8},{"e":19610,"d":1.7},{"e":19670,"d":1.9},{"e":19720,"d":1.9},{"e":19770,"d":1.8},{"e":19830,"d":1.9},{"e":19890,"d":1.8}
]
},
"vconcat": [
{
 "width": 834, "height": 283,
 "data": {"name": "scatter"},
 "layer": [
  {"mark": {"type": "point", "filled": true, "size": 19, "opacity": 1, "color": "#1170bd", "strokeWidth": 0},
   "encoding": {
    "x": {"field": "e", "type": "quantitative", "scale": {"domain": [0, 20000], "nice": false}, "axis": {"title": "Episode", "orient": "bottom", "values": [0,2000,4000,6000,8000,10000,12000,14000,16000,18000,20000], "format": "d", "labelExpr": "datum.value % 4000 === 0 ? datum.label : ''"}},
    "y": {"field": "d", "type": "quantitative", "scale": {"domain": [0, 18], "nice": false}, "axis": {"title": "Distance (Å)", "orient": "left", "values": [0,2,4,6,8,10,12,14,16,18]}}
   }},
  {"mark": {"type": "point", "opacity": 0},
   "encoding": {
    "x": {"field": "e", "type": "quantitative", "axis": {"title": null, "orient": "top", "labels": false, "values": [0,2000,4000,6000,8000,10000,12000,14000,16000,18000,20000]}},
    "y": {"field": "d", "type": "quantitative", "axis": {"title": null, "orient": "right", "labels": false, "values": [0,2,4,6,8,10,12,14,16,18]}}
   }}
 ],
 "resolve": {"axis": {"x": "independent", "y": "independent"}}
},
{
 "width": 834, "height": 283,
 "data": {"name": "smooth"},
 "layer": [
  {"mark": {"type": "line", "color": "#1170bd", "strokeWidth": 3.5, "strokeJoin": "round"},
   "encoding": {
    "x": {"field": "e", "type": "quantitative", "scale": {"domain": [0, 20000], "nice": false}, "axis": {"title": "Episode", "orient": "bottom", "values": [0,2000,4000,6000,8000,10000,12000,14000,16000,18000,20000], "format": "d", "labelExpr": "datum.value % 4000 === 0 ? datum.label : ''"}},
    "y": {"field": "d", "type": "quantitative", "scale": {"domain": [0, 18], "nice": false}, "axis": {"title": "Distance (Å)", "orient": "left", "values": [0,2,4,6,8,10,12,14,16,18]}}
   }},
  {"mark": {"type": "point", "opacity": 0},
   "encoding": {
    "x": {"field": "e", "type": "quantitative", "axis": {"title": null, "orient": "top", "labels": false, "values": [0,2000,4000,6000,8000,10000,12000,14000,16000,18000,20000]}},
    "y": {"field": "d", "type": "quantitative", "axis": {"title": null, "orient": "right", "labels": false, "values": [0,2,4,6,8,10,12,14,16,18]}}
   }}
 ],
 "resolve": {"axis": {"x": "independent", "y": "independent"}}
}
]
}
